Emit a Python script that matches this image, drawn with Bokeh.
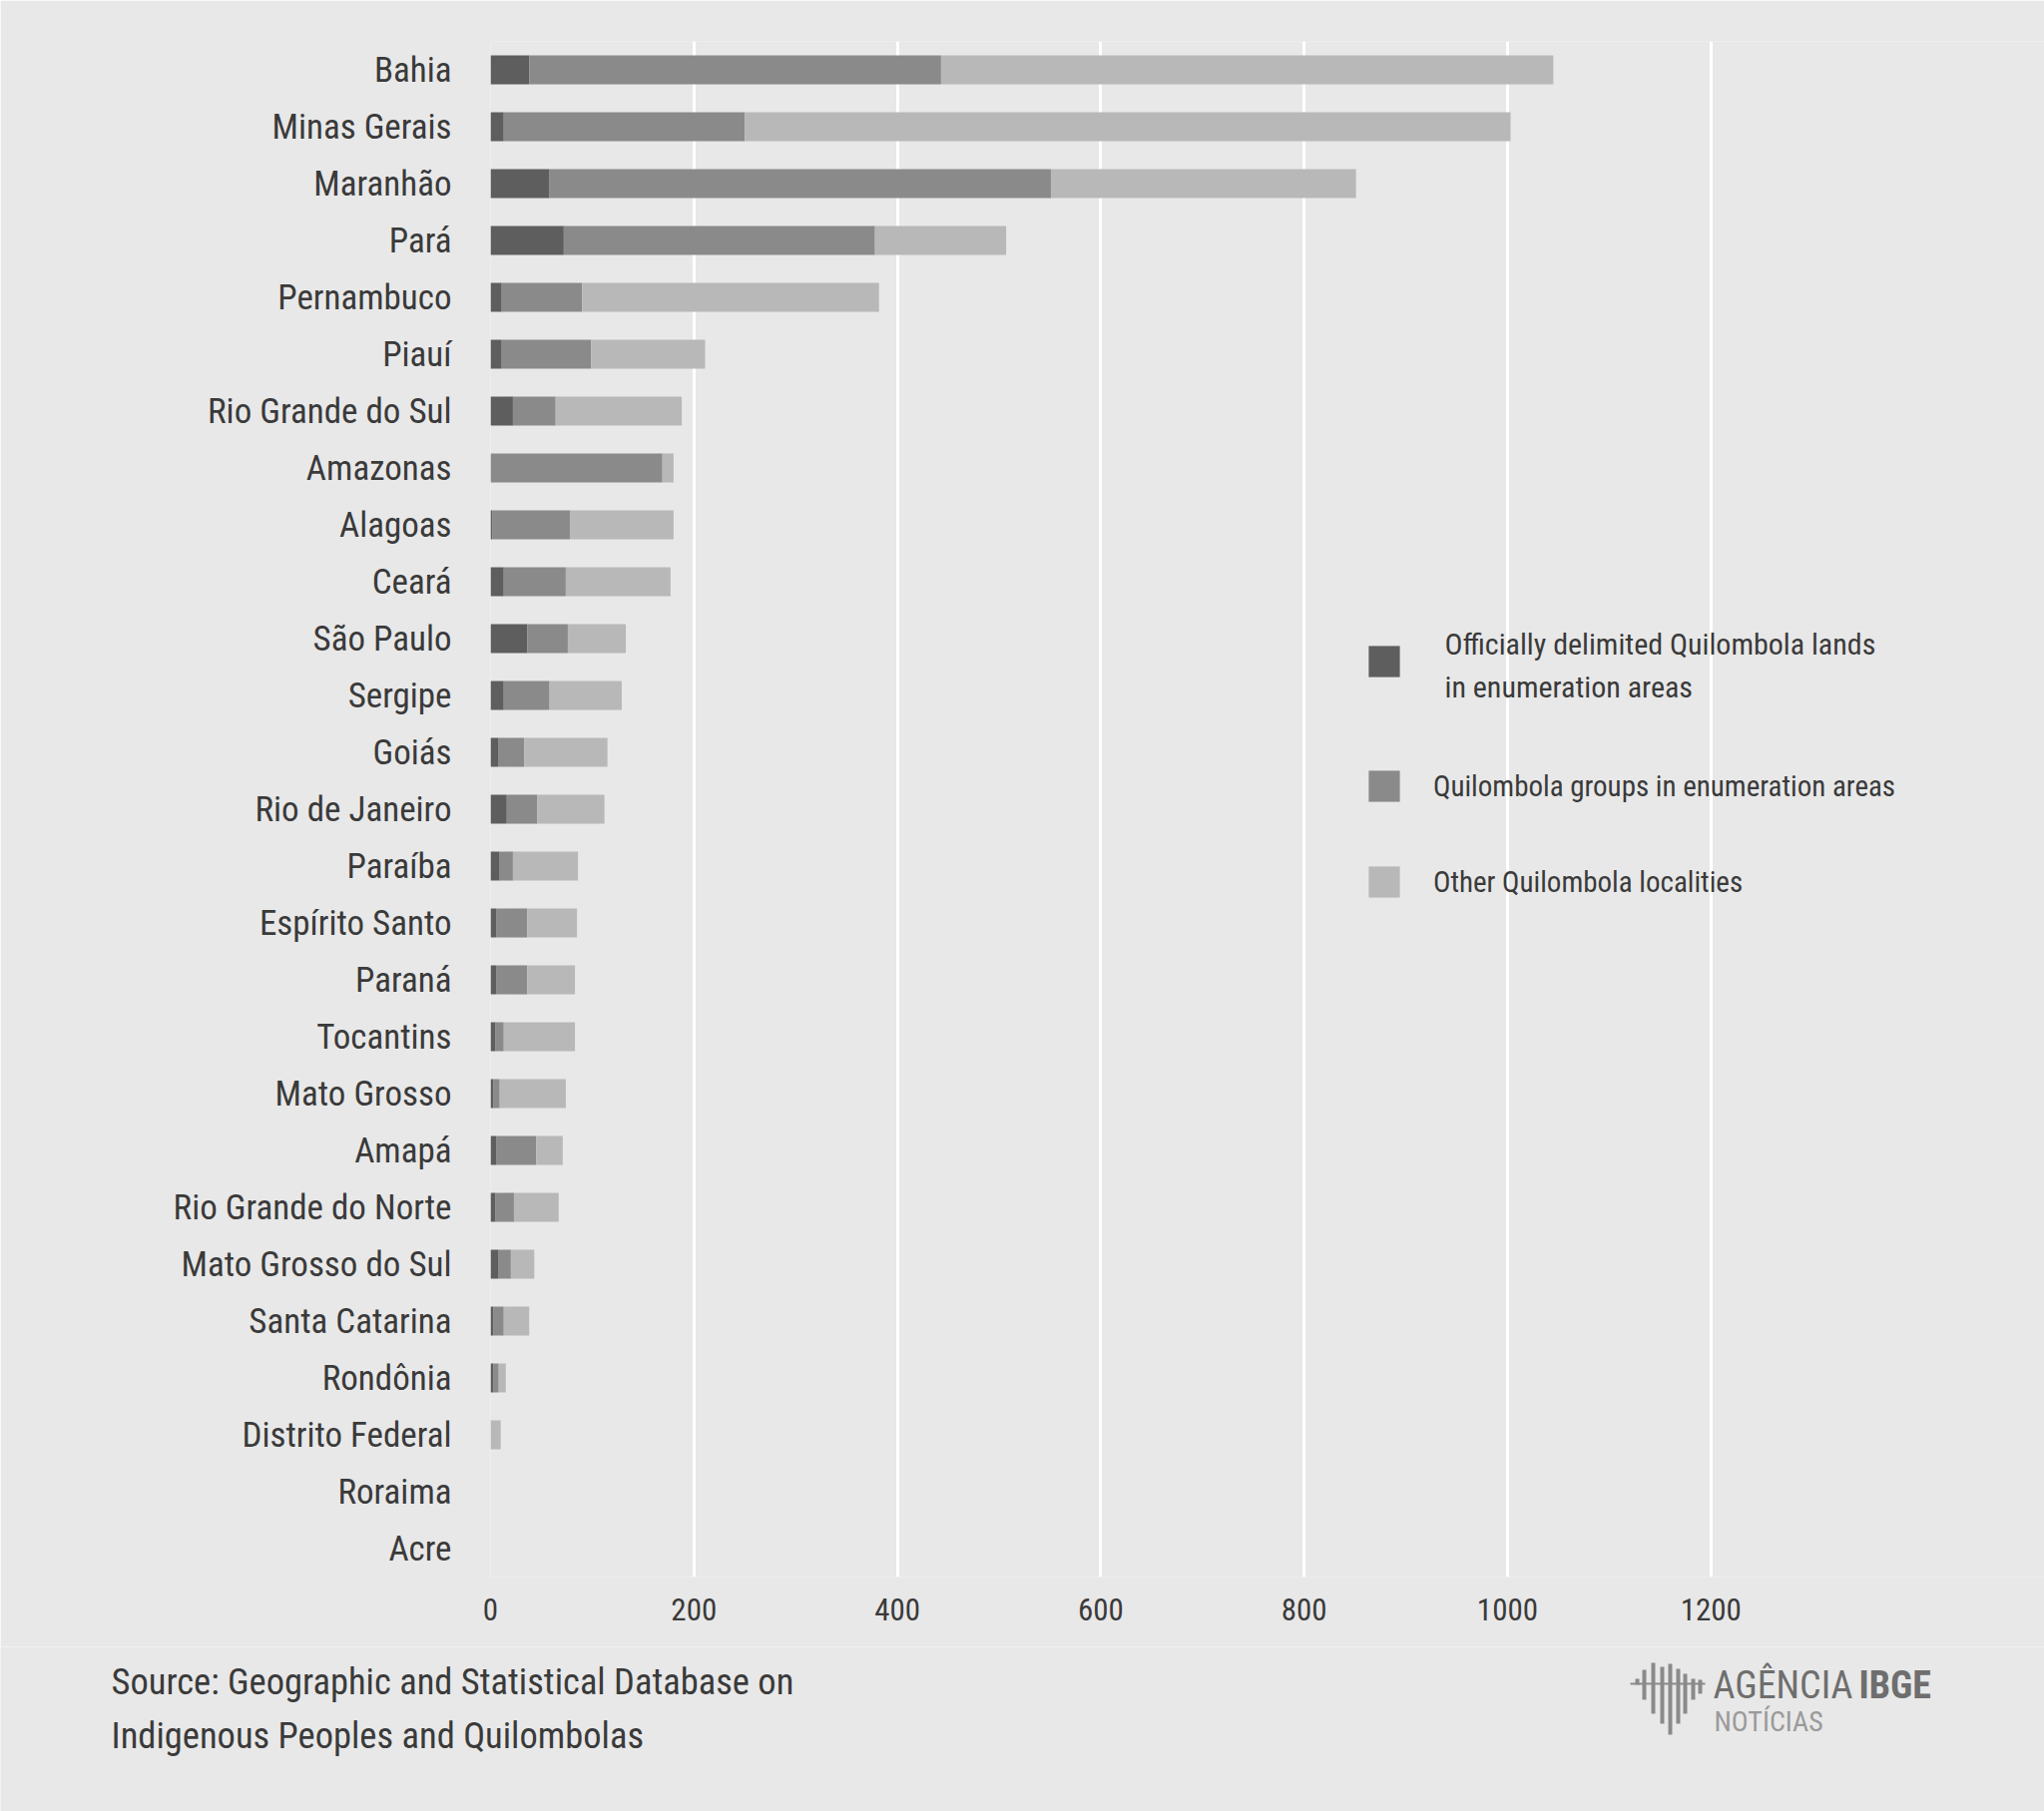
from bokeh.plotting import figure
from bokeh.layouts import column, row
from bokeh.models import FactorRange, Range1d, Legend, LegendItem, Label, FixedTicker
from bokeh.embed import file_html
from bokeh.resources import INLINE

states = ["Bahia", "Minas Gerais", "Maranhão", "Pará", "Pernambuco", "Piauí",
          "Rio Grande do Sul", "Amazonas", "Alagoas", "Ceará", "São Paulo", "Sergipe",
          "Goiás", "Rio de Janeiro", "Paraíba", "Espírito Santo", "Paraná", "Tocantins",
          "Mato Grosso", "Amapá", "Rio Grande do Norte", "Mato Grosso do Sul",
          "Santa Catarina", "Rondônia", "Distrito Federal", "Roraima", "Acre"]
delimited = [38, 13, 58, 72, 11, 11, 22, 0, 2, 13, 36, 13, 8, 16, 9, 6, 6, 5, 3, 6, 5, 8, 3, 3, 0, 0, 0]
groups =    [405, 237, 493, 306, 79, 88, 42, 169, 76, 61, 40, 45, 25, 30, 13, 30, 30, 8, 6, 39, 18, 12, 10, 5, 0, 0, 0]
other =     [602, 753, 300, 129, 292, 112, 124, 11, 102, 103, 57, 71, 82, 66, 64, 49, 47, 70, 65, 26, 44, 23, 25, 7, 10, 0, 0]
x_ticks = [0, 200, 400, 600, 800, 1000, 1200]
series = ["delimited", "groups", "other"]
legend_lines = ["Officially delimited Quilombola lands", "in enumeration areas"]
legend_labels = ["Quilombola groups in enumeration areas", "Other Quilombola localities"]
colors = ["#5e5e5e", "#8a8a8a", "#b8b8b8"]
source_lines = ["Source: Geographic and Statistical Database on",
                "Indigenous Peoples and Quilombolas"]

BG = "#e8e8e8"
FONT = "Roboto Condensed, Roboto"
TXT = "#3a3a3a"

W, H_MAIN, H_FOOT = 2048, 1650, 165
p = figure(width=W, height=H_MAIN, output_backend="svg", toolbar_location=None,
           y_range=FactorRange(factors=list(reversed(states)), range_padding=0),
           x_range=Range1d(0, 1528))
p.min_border_left = 491
p.min_border_right = 0
p.min_border_top = 41
p.min_border_bottom = 70
p.background_fill_color = BG
p.border_fill_color = BG
p.outline_line_color = None

data = dict(state=states, delimited=delimited, groups=groups, other=other)
rs = p.hbar_stack(series, y="state", height=0.51, color=colors, source=data, line_width=0)

p.xgrid.grid_line_color = "white"
p.xgrid.grid_line_width = 3
p.ygrid.grid_line_color = None
p.xaxis.ticker = FixedTicker(ticks=x_ticks)
for ax in (p.xaxis[0], p.yaxis[0]):
    ax.axis_line_color = None
    ax.major_tick_line_color = None
    ax.minor_tick_line_color = None
    ax.major_label_text_font = FONT
    ax.major_label_text_color = TXT
p.xaxis.major_label_text_font_size = "31px"
p.xaxis.major_label_standoff = 15
p.yaxis.major_label_text_font_size = "35px"
p.yaxis.major_label_standoff = 33

def make_legend(items, loc):
    lg = Legend(items=items, location=loc, orientation="vertical")
    lg.background_fill_alpha = 0
    lg.border_line_color = None
    lg.padding = 0
    lg.margin = 0
    lg.spacing = 57
    lg.glyph_width = 39
    lg.glyph_height = 39
    lg.label_standoff = 30
    lg.label_text_font = FONT
    lg.label_text_font_size = "29px"
    lg.label_text_color = TXT
    p.add_layout(lg, "center")
    return lg

make_legend([LegendItem(label=" ", renderers=[rs[0]])], (876, 898))
make_legend([LegendItem(label=legend_labels[i], renderers=[rs[i + 1]]) for i in range(2)], (876, 677))

def lab(fig, x, y, text, size, color=TXT, style="normal", units="screen"):
    l = Label(x=x, y=y, x_units=units, y_units=units, text=text,
              text_font=FONT, text_font_size=size, text_font_style=style,
              text_color=color, text_baseline="middle")
    fig.add_layout(l)
    return l

# first legend entry text (two lines), frame-relative coordinates
lab(p, 1447 - 491, 1580 - 645, legend_lines[0], "30px")
lab(p, 1447 - 491, 1580 - 688, legend_lines[1], "30px")

# footer
f = figure(width=W, height=H_FOOT, output_backend="svg", toolbar_location=None,
           x_range=Range1d(0, W), y_range=Range1d(0, H_FOOT),
           x_axis_location=None, y_axis_location=None)
f.min_border = 0
f.min_border_left = 0
f.min_border_right = 0
f.background_fill_color = BG
f.border_fill_color = BG
f.outline_line_color = None
f.grid.visible = False

Y0 = 1815
lab(f, 111, Y0 - 1685, source_lines[0], "36.5px", units="data")
lab(f, 111, Y0 - 1739, source_lines[1], "36.5px", units="data")
lab(f, 1716, Y0 - 1688, "AGÊNCIA", "38px", "#6e6e6e", units="data")
lab(f, 1862, Y0 - 1688, "IBGE", "38px", "#6e6e6e", "bold", units="data")
lab(f, 1717, Y0 - 1725, "NOTÍCIAS", "28px", "#9a9a9a", units="data")

# logo icon (decoration): vertical strokes
icon_x = [1640, 1647, 1656, 1665, 1673, 1681, 1688, 1696, 1703]
icon_top = [1682, 1673, 1666, 1670, 1667, 1672, 1677, 1682, 1683]
icon_bot = [1688, 1703, 1717, 1727, 1738, 1727, 1717, 1703, 1697]
f.segment(x0=icon_x, x1=icon_x, y0=[Y0 - v for v in icon_top], y1=[Y0 - v for v in icon_bot],
          line_width=4, line_color="#8a8a8a")
f.segment(x0=[1633], x1=[1708], y0=[Y0 - 1687], y1=[Y0 - 1687], line_width=2, line_color="#8a8a8a")

layout = column(p, row(f), spacing=0)
html = file_html(layout, INLINE)
html = html.replace("<body>", '<body style="background:#e8e8e8">', 1)
open("out.html", "w").write(html)
